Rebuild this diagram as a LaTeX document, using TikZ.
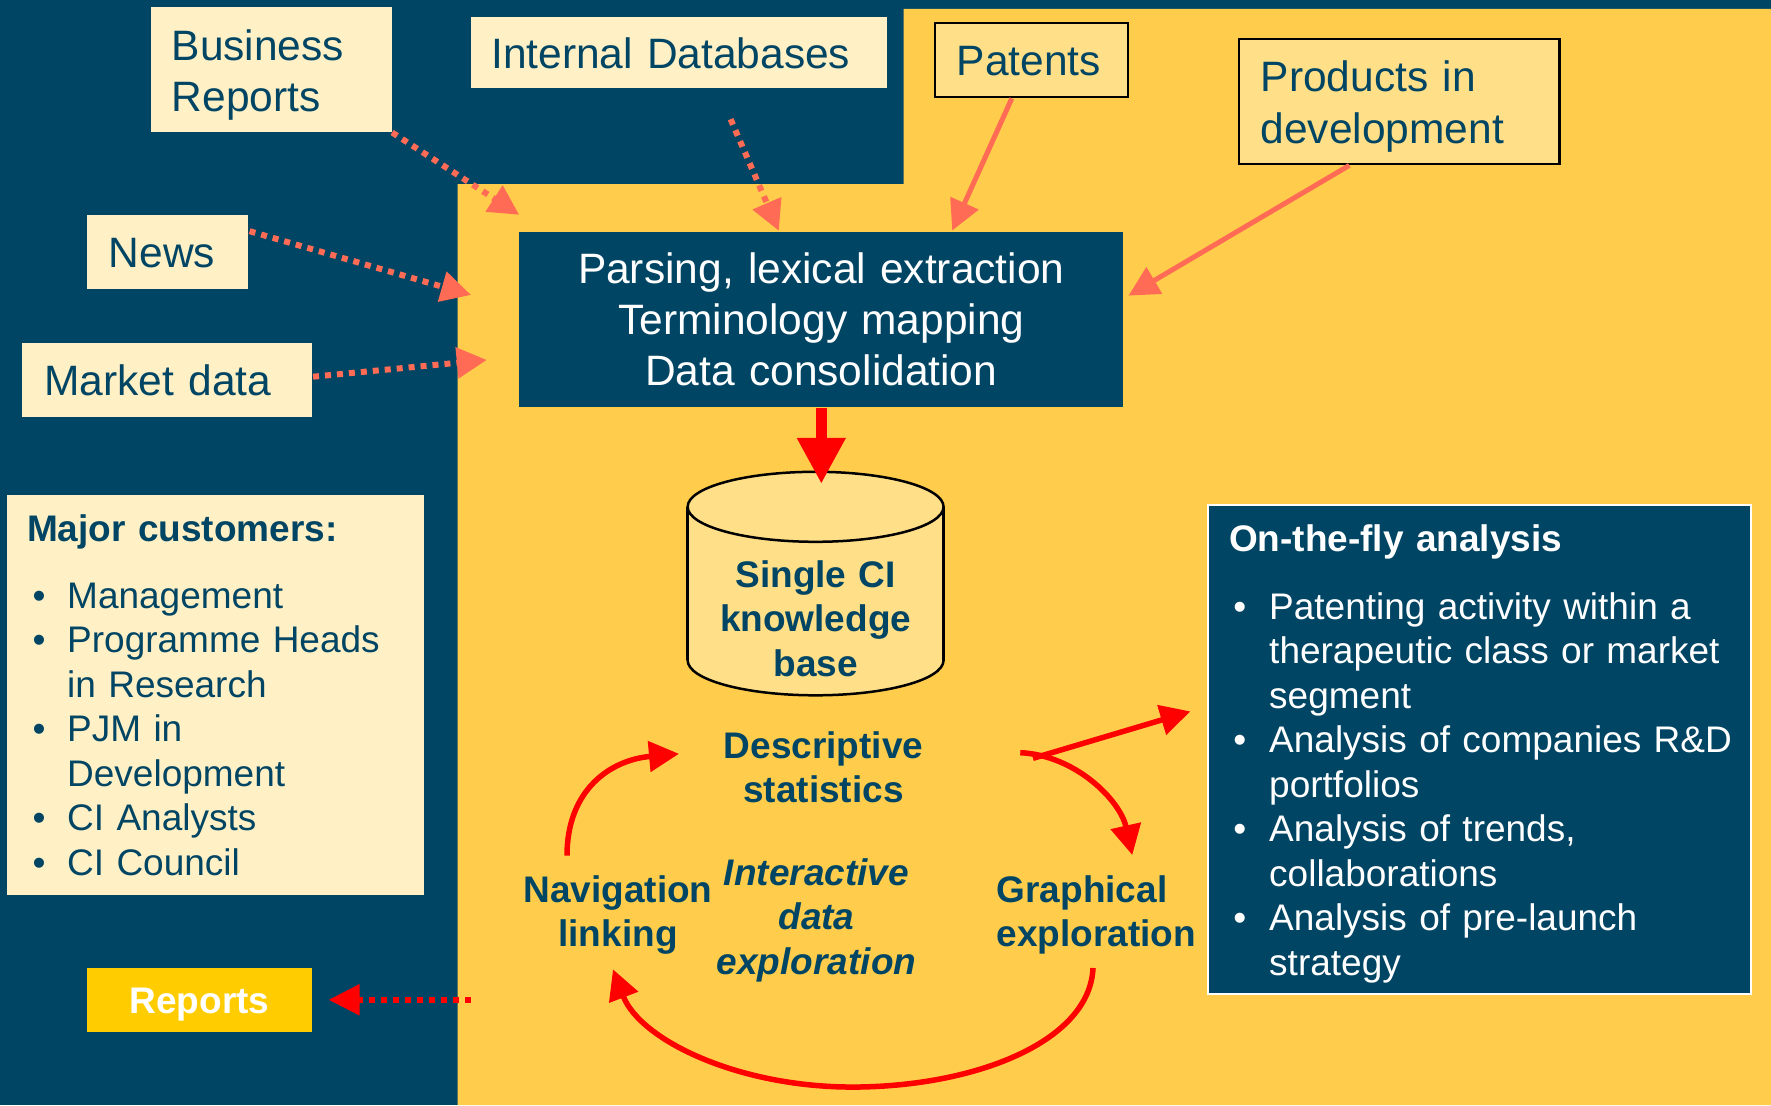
\documentclass[tikz,border=0pt]{standalone}
\usepackage{fontspec}
\setmainfont{Liberation Sans}
\usetikzlibrary{arrows.meta,calc}

\definecolor{navy}{HTML}{004563}
\definecolor{gold}{HTML}{FFCD4B}
\definecolor{cream}{HTML}{FFF0C6}
\definecolor{paleyellow}{HTML}{FFDF87}
\definecolor{coral}{HTML}{FF6B54}
\definecolor{reportgold}{HTML}{FFCC00}

\newcommand\srcfont{\fontsize{42.5pt}{51.5pt}\selectfont}
\newcommand\bodyfont{\fontsize{37pt}{44.5pt}\selectfont}
% bullets for the two lists
\newcommand\custbullet{\hspace*{5.6pt}\makebox[34.5pt][l]{\textbullet}}
\newcommand\custcont{\hspace*{40.1pt}}
\newcommand\flybullet{\hspace*{4.4pt}\makebox[35.8pt][l]{\textbullet}}
\newcommand\flycont{\hspace*{40.2pt}}

\begin{document}
\begin{tikzpicture}[x=1pt,y=-1pt,
  cream box/.style={fill=cream, inner sep=0pt},
  pale box/.style={fill=paleyellow, draw=black, line width=2.2pt, inner sep=0pt},
  navy box/.style={fill=navy, inner sep=0pt},
  lefttext/.style={inner sep=0pt, anchor=base west, align=left, text=navy, text width=#1},
  midtext/.style={inner sep=0pt, anchor=base, align=center, text=navy, text width=#1},
  feed/.style={draw=coral, line width=5pt, -{Triangle[length=30pt,width=30pt]}},
  feed dotted/.style={feed, line width=6pt, dash pattern=on 6pt off 6pt},
  cycle arrow/.style={draw=red, line width=5.5pt, -{Triangle[length=30pt,width=30pt]}},
]
\useasboundingbox (0,0) rectangle (1771,1105);

% background areas
\fill[navy] (0,0) rectangle (1771,1105);
\fill[gold] (457.7,1105) -- (457.7,184) -- (903.5,184) -- (903.5,9)
  -- (1771,9) -- (1771,1105) -- cycle;

% information sources
\node[cream box, minimum width=241.1pt, minimum height=125pt] (biz) at (271.4,69.8) {};
\node[lefttext=200pt, font=\srcfont] (biz-t) at (171.5,60.4) {Business\\Reports};
\node[cream box, minimum width=416pt, minimum height=70.4pt] (idb) at (679,52.5) {};
\node[lefttext=380pt, font=\srcfont] (idb-t) at (491,68.3) {Internal Databases};
\node[cream box, minimum width=160.8pt, minimum height=73.7pt] (news) at (167.3,252.2) {};
\node[lefttext=125pt, font=\srcfont] (news-t) at (108.5,267.3) {News};
\node[cream box, minimum width=289.3pt, minimum height=73.4pt] (market) at (167,380) {};
\node[lefttext=250pt, font=\srcfont] (market-t) at (44.2,395.7) {Market data};
\node[pale box, minimum width=192.7pt, minimum height=74pt] (pat) at (1031.4,60.3) {};
\node[lefttext=160pt, font=\srcfont] (pat-t) at (956.5,76) {Patents};
\node[pale box, minimum width=320.5pt, minimum height=125pt] (prod) at (1399.3,101.8) {};
\node[lefttext=270pt, font=\srcfont] (prod-t) at (1260.5,91.7) {Products in\\development};

% processing step
\node[navy box, minimum width=603.8pt, minimum height=175.3pt] (parse) at (821.3,319.65) {};
\node[midtext=560pt, text=white, font=\fontsize{42.5pt}{51.2pt}\selectfont] (parse-t)
  at (821.3,283.5) {Parsing, lexical extraction\\Terminology mapping\\Data consolidation};

% knowledge base cylinder
\coordinate (kbtop) at (815.6,471.8);
\fill[paleyellow] (815.6,660.3) ellipse [x radius=127.95pt, y radius=35pt];
\fill[paleyellow] (687.65,506.8) rectangle (943.55,660.3);
\draw[line width=2.5pt] (687.65,506.8) -- (687.65,660.3) (943.55,506.8) -- (943.55,660.3);
\begin{scope}
  \clip (680,660.3) rectangle (951,700);
  \draw[line width=2.5pt] (815.6,660.3) ellipse [x radius=127.95pt, y radius=35pt];
\end{scope}
\draw[line width=2.5pt, fill=paleyellow] (815.6,506.8) ellipse [x radius=127.95pt, y radius=35pt];
\node[midtext=200pt, font=\bodyfont\bfseries] (kb) at (815.6,587) {Single CI\\knowledge\\base};

% customers
\node[cream box, minimum width=416.7pt, minimum height=399.6pt] (cust) at (215.25,694.8) {};
\node[lefttext=370pt, font=\bodyfont] (cust-t) at (26.9,541.8) {\textbf{Major customers:}\\[22pt]
  \custbullet Management\\
  \custbullet Programme Heads\\
  \custcont in Research\\
  \custbullet PJM in\\
  \custcont Development\\
  \custbullet CI Analysts\\
  \custbullet CI Council};

% reports
\node[fill=reportgold, inner sep=0pt, minimum width=224.4pt, minimum height=63.6pt] (rep) at (199.5,999.8) {};
\node[midtext=200pt, text=white, font=\bodyfont\bfseries] (rep-t) at (199.5,1013.4) {Reports};

% analysis loop labels
\node[midtext=205pt, font=\bodyfont\bfseries] (desc) at (823.5,758) {Descriptive\\statistics};
\node[midtext=202pt, font=\bodyfont\bfseries\itshape] (inter) at (816.5,885.3) {Interactive\\data\\exploration};
\node[midtext=192pt, font=\bodyfont\bfseries] (nav) at (618,902) {Navigation\\linking};
\node[lefttext=205pt, font=\bodyfont\bfseries] (graph) at (996.5,902) {Graphical\\exploration};

% on-the-fly analysis
\node[navy box, draw=white, line width=2pt, minimum width=543.2pt, minimum height=489.4pt] (fly) at (1479.4,749.2) {};
\node[lefttext=510pt, text=white, font=\bodyfont] (fly-t) at (1228.8,551.3) {\textbf{On-the-fly analysis}\\[23.5pt]
  \flybullet Patenting activity within a\\
  \flycont therapeutic class or market\\
  \flycont segment\\
  \flybullet Analysis of companies R\&D\\
  \flycont portfolios\\
  \flybullet Analysis of trends,\\
  \flycont collaborations\\
  \flybullet Analysis of pre-launch\\
  \flycont strategy};

% feeds into the processing step
\draw[feed dotted] (biz.south east) -- ($(parse.north west)+(0,-17)$);
\draw[feed dotted] ($(idb.south)+(51.6,31.3)$) -- ($(parse.north)+(-42.5,-1)$);
\draw[feed dotted] ($(news.east)+(1.7,-21)$) -- ($(parse.west)+(-48.2,-24.7)$);
\draw[feed dotted] ($(market.east)+(1.2,-3.3)$) -- ($(parse.west)+(-32.4,40.3)$);
\draw[feed] ($(pat.south)+(-19.6,0)$) -- ($(parse.north)+(130.9,-1.3)$);
\draw[feed] ($(prod.south)+(-50,0)$) -- ($(parse.east)+(5.1,-24)$);

% into the knowledge base
\draw[red, line width=11pt, -{Triangle[length=46pt,width=46pt]}]
  (parse.south) -- ($(parse.south |- kbtop)+(0,12)$);

% interactive loop
\coordinate (navout) at (567,855.6);
\coordinate (descin) at (679,753.8);
\coordinate (descout) at (1020.3,752.7);
\coordinate (branch) at (1033,758.3);
\coordinate (graphin) at (1132.3,855);
\coordinate (graphout) at (1093,968);
\coordinate (navin) at (613,969.3);
\coordinate (flyin) at ($(fly.west)+(-16.4,-37.8)$);
\draw[cycle arrow] (navout) .. controls (567,790) and (610,760) .. (descin);
\draw[cycle arrow] (descout) .. controls (1075,755) and (1120,800) .. (graphin);
\draw[cycle arrow] (branch) -- (flyin);
\draw[cycle arrow] (graphout) .. controls (1090,1040) and (980,1085) .. (860,1087)
  .. controls (740,1089) and (640,1040) .. (navin);

% output to reports
\draw[red, line width=5.5pt, dash pattern=on 5.5pt off 6.5pt, -{Triangle[length=31pt,width=30pt]}]
  ($(rep.east)+(159,0)$) -- ($(rep.east)+(16.7,0)$);
\end{tikzpicture}
\end{document}
